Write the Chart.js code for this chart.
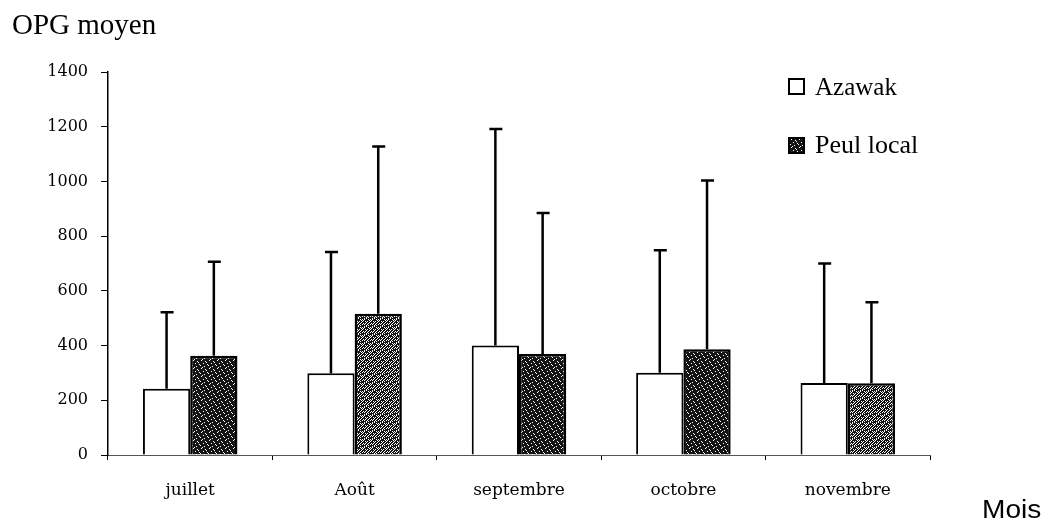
<!DOCTYPE html>
<html>
<head>
<meta charset="utf-8">
<script src="https://cdn.jsdelivr.net/npm/chart.js@4"></script>
<style>
  body { margin: 0; background: #fff; }
  #wrap { position: relative; width: 1047px; height: 523px; }
  .lbl { position: absolute; color: #000; white-space: nowrap; line-height: 1; }
  .serif { font-family: "Liberation Serif", serif; }
  .box { position: absolute; width: 17px; height: 17px; border: 2px solid #000; box-sizing: border-box; }
</style>
</head>
<body>
<div id="wrap">
  <canvas id="myChart" width="1047" height="523"></canvas>
  <div class="lbl serif" style="left:12px; top:10px; font-size:29px;">OPG moyen</div>
  <div class="lbl" style="left:982px; top:496px; font-family:'Liberation Sans',sans-serif; font-size:26px; transform:scaleX(1.08); transform-origin:left;">Mois</div>
  <span class="box" style="left:788px; top:78px; background:#fff"></span>
  <div class="lbl serif" style="left:815px; top:74px; font-size:25px;">Azawak</div>
  <span class="box" id="legPeul" style="left:788px; top:137px; background:#111"></span>
  <div class="lbl serif" style="left:815px; top:132px; font-size:26px;">Peul local</div>
</div>
<script>
// data
months = ["juillet", "Août", "septembre", "octobre", "novembre"];
azawak = [242, 299, 400, 301, 263];
azawakErr = [522, 742, 1192, 748, 700];
peul = [363, 516, 369, 387, 262];
peulErr = [706, 1128, 885, 1003, 558];
yTicks = [0, 200, 400, 600, 800, 1000, 1200, 1400];

// stipple textures for the Peul local bars (the scan is darker on some bars)
function makePattern(holes) {
    var c = document.createElement("canvas");
    c.width = 8; c.height = 8;
    var g = c.getContext("2d");
    g.fillStyle = "#151515";
    g.fillRect(0, 0, 8, 8);
    g.fillStyle = "#fff";
    holes.forEach(h => g.fillRect(h[0], h[1], 1, 1));
    return g.createPattern(c, "repeat");
}
dense = makePattern([[1,0],[5,1],[3,3],[7,4],[0,5],[4,6],[2,7],[6,2]]);
light = makePattern([[1,0],[5,1],[3,3],[7,4],[0,5],[4,6],[2,7],[6,2],
                     [3,0],[7,1],[1,2],[5,3],[2,4],[6,5],[0,7],[4,7],[2,1],[6,6],[0,3],[4,4]]);
peulFill = [dense, light, dense, dense, light];

errorBars = {
    id: "errorBars",
    afterDatasetsDraw(chart) {
        var ctx = chart.ctx;
        var y = chart.scales.y;
        var tops = [azawakErr, peulErr];
        ctx.save();
        ctx.strokeStyle = "#000";
        ctx.lineWidth = 2.5;
        chart.data.datasets.forEach((ds, i) => {
            chart.getDatasetMeta(i).data.forEach((bar, j) => {
                var yb = y.getPixelForValue(ds.data[j]);
                var yt = y.getPixelForValue(tops[i][j]);
                ctx.beginPath();
                ctx.moveTo(bar.x, yb);
                ctx.lineTo(bar.x, yt);
                ctx.moveTo(bar.x - 6, yt);
                ctx.lineTo(bar.x + 7, yt);
                ctx.stroke();
            });
        });
        ctx.restore();
    }
};

ctx = document.getElementById("myChart").getContext("2d");

new Chart(ctx, {
    type: "bar",
    data: {
        labels: months,
        datasets: [
            {
                label: "Azawak",
                data: azawak,
                backgroundColor: "#fff",
                borderColor: "#000",
                borderWidth: 2,
                barPercentage: 1,
                categoryPercentage: 0.575
            },
            {
                label: "Peul local",
                data: peul,
                backgroundColor: peulFill,
                borderColor: "#000",
                borderWidth: 2.5,
                barPercentage: 1,
                categoryPercentage: 0.575
            }
        ]
    },
    options: {
        responsive: false,
        animation: false,
        layout: { padding: { top: 72, right: 117, left: 0, bottom: 0 } },
        plugins: {
            legend: { display: false },
            tooltip: { enabled: false }
        },
        scales: {
            x: {
                grid: { drawOnChartArea: false, color: "#000", tickLength: 5, lineWidth: 1 },
                border: { color: "#555", width: 1, dash: [5, 3] },
                ticks: {
                    color: "#000",
                    padding: 20,
                    font: { family: "DejaVu Serif", size: 17 }
                },
                afterFit(s) { s.height = 68; }
            },
            y: {
                min: 0,
                max: 1400,
                afterBuildTicks(s) { s.ticks = yTicks.map(v => ({ value: v })); },
                grid: { drawOnChartArea: false, color: "#000", tickLength: 7, lineWidth: 1 },
                border: { color: "#000", width: 1.5 },
                ticks: {
                    color: "#000",
                    padding: 13,
                    font: { family: "DejaVu Serif", size: 16 },
                    callback: v => String(v)
                },
                afterFit(s) { s.width = 108; }
            }
        }
    },
    plugins: [errorBars]
});

// legend swatch uses the same texture
var sw = document.createElement("canvas");
sw.width = 17; sw.height = 17;
var sg = sw.getContext("2d");
sg.fillStyle = dense;
sg.fillRect(0, 0, 17, 17);
document.getElementById("legPeul").style.background = "url(" + sw.toDataURL() + ")";
</script>
</body>
</html>
